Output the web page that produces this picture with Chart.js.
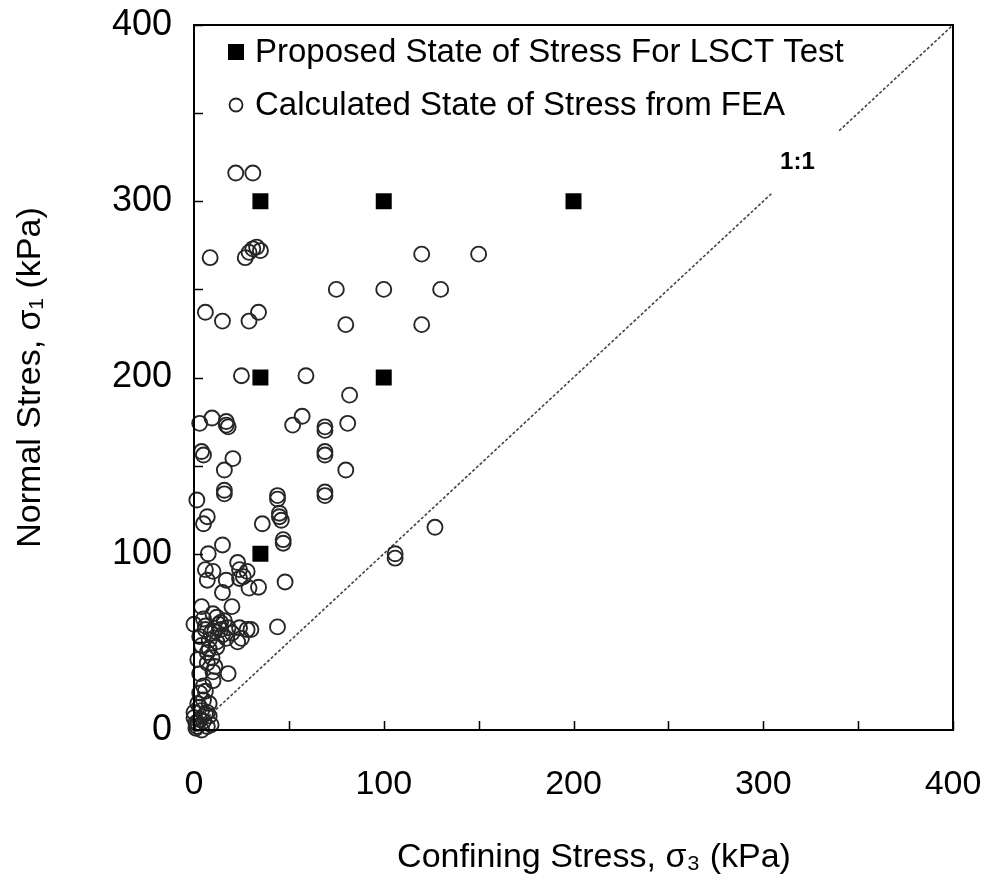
<!DOCTYPE html>
<html>
<head>
<meta charset="utf-8">
<script src="https://cdn.jsdelivr.net/npm/chart.js@4.4.1/dist/chart.umd.min.js"></script>
<style>
  html, body { margin: 0; padding: 0; background: #fff; }
  #wrap { width: 984px; height: 880px; }
</style>
</head>
<body>
<div id="wrap"><canvas id="stressChart" width="984" height="880"></canvas></div>
<script>
// proposed LSCT test states (sigma3, sigma1) in kPa
const proposedX = [35, 100, 200, 35, 100, 35];
const proposedY = [300, 300, 300, 200, 200, 100];

// FEA calculated states
const feaX = [22, 31, 8.5, 27, 29, 31, 33, 35, 6, 15, 29, 34, 25, 59, 75, 100, 130, 120, 150, 80, 120, 82,
  3, 9.5, 17, 17, 18, 52, 57, 69, 69, 81, 4, 5, 20.5, 16, 69, 69, 80, 16, 16, 69, 69,
  1.5, 44, 44, 45, 45, 46, 7, 5, 36, 127, 47, 47, 7.5, 15, 106, 106,
  48, 34, 29, 24, 23, 28, 6, 10, 7, 15, 17, 26, 24,
  4, 10, 12, 0, 6, 14, 24, 28, 30, 44, 3, 8, 15, 23, 7, 9.5, 7, 18, 3, 10, 12, 16, 20, 13, 18, 5, 9, 20, 25, 11,
  6, 11, 14, 17, 4, 8, 12, 2, 10,
  3, 5, 0, 3, 7, 1.5, 3, 7, 0, 2, 5, 8, 4, 1, 6, 8, 2, 9, 5, 4, 6, 1];
const feaY = [316, 316, 268, 268, 271, 273, 274, 272, 237, 232, 232, 237, 201, 201, 250, 250, 250, 270, 270, 230, 230, 190,
  174, 177, 175, 173, 172, 173, 178, 172, 170, 174, 158, 156, 154, 147.5, 158, 156, 147.5, 136, 134, 135, 133,
  130.5, 133, 131, 123, 121, 119, 121, 117, 117, 115, 108, 106, 100, 105, 100, 97.5,
  84, 81, 80.5, 91, 95, 90, 91, 90, 85, 78, 85, 87, 86,
  70, 66, 64, 60, 57, 57, 58, 57, 57, 58.5, 53, 51, 54, 50, 44, 41, 38, 32, 32, 28, 47, 62, 70, 60, 58, 63, 55, 55, 52, 36,
  59, 56, 61, 52, 48, 46, 50, 40, 33,
  21, 17, 10, 6, 2, 2, 13, 10, 7, 4, 5, 8, 0, 1, 22, 15, 15, 3, 25, 11, 9, 4];

// 1:1 reference line, broken where the label sits
const lineX = [0, 305, 322, 340, 400];
const lineY = [0, 305, null, 340, 400];

const axisTicks = [0, 100, 200, 300, 400];

const toPts = (xs, ys) => xs.map((x, i) => ({ x: x, y: ys[i] }));

// inward ticks, closed frame, "1:1" text, x title and in-plot legend
const framePlugin = {
  id: 'frame',
  afterDraw(chart) {
    const ctx = chart.ctx;
    const a = chart.chartArea;
    const xs = chart.scales.x, ys = chart.scales.y;
    ctx.save();
    ctx.strokeStyle = '#000';
    ctx.lineWidth = 2;
    ctx.strokeRect(a.left, a.top, a.right - a.left, a.bottom - a.top);
    ctx.lineWidth = 1.5;
    ctx.beginPath();
    xs.ticks.forEach(t => {
      const px = Math.round(xs.getPixelForValue(t.value)) + 0.5;
      ctx.moveTo(px, a.bottom);
      ctx.lineTo(px, a.bottom - 9);
    });
    ys.ticks.forEach(t => {
      const py = Math.round(ys.getPixelForValue(t.value)) + 0.5;
      ctx.moveTo(a.left, py);
      ctx.lineTo(a.left + 9, py);
    });
    ctx.stroke();

    // 1:1 label
    ctx.fillStyle = '#000';
    ctx.font = 'bold 24px "Liberation Sans", Arial, sans-serif';
    ctx.textAlign = 'center';
    ctx.textBaseline = 'middle';
    ctx.fillText('1:1', xs.getPixelForValue(318), ys.getPixelForValue(322));

    // x axis title, sitting a little right of centre like the original
    ctx.font = '34px "Liberation Sans", Arial, sans-serif';
    ctx.fillText('Confining Stress, σ₃ (kPa)', 594, 858);

    // legend
    const lx = a.left + 42, ly1 = a.top + 27, ly2 = a.top + 80;
    ctx.fillRect(lx - 8, ly1 - 8, 16, 16);
    ctx.beginPath();
    ctx.arc(lx, ly2, 6.5, 0, Math.PI * 2);
    ctx.lineWidth = 1.8;
    ctx.strokeStyle = '#222';
    ctx.stroke();
    ctx.font = '33px "Liberation Sans", Arial, sans-serif';
    ctx.textAlign = 'left';
    ctx.fillText('Proposed State of Stress For LSCT Test', lx + 19, ly1 + 1);
    ctx.fillText('Calculated State of Stress from FEA', lx + 19, ly2 + 1);
    ctx.restore();
  }
};

const ctx = document.getElementById('stressChart').getContext('2d');
const stressChart = new Chart(ctx, {
  type: 'scatter',
  data: {
    datasets: [
      {
        label: 'Proposed State of Stress For LSCT Test',
        data: toPts(proposedX, proposedY),
        pointStyle: 'rect',
        pointRadius: 11.3,
        backgroundColor: '#000',
        borderColor: '#000',
        borderWidth: 0,
        clip: false
      },
      {
        label: 'Calculated State of Stress from FEA',
        data: toPts(feaX, feaY),
        pointStyle: 'circle',
        pointRadius: 7.5,
        backgroundColor: 'rgba(0,0,0,0)',
        borderColor: '#262626',
        borderWidth: 1.9,
        clip: false
      },
      {
        label: '1:1',
        data: toPts(lineX, lineY),
        showLine: true,
        spanGaps: false,
        pointRadius: 0,
        borderColor: '#444',
        borderWidth: 1.6,
        borderDash: [3, 2]
      }
    ]
  },
  options: {
    responsive: false,
    animation: false,
    layout: { padding: { top: 25, right: 31, left: 0, bottom: 0 } },
    plugins: {
      legend: { display: false },
      tooltip: { enabled: false }
    },
    scales: {
      x: {
        type: 'linear',
        min: 0,
        max: 400,
        afterFit(scale) {
          scale.height = 150;
          scale.paddingLeft = 0;
          scale.paddingRight = 0;
        },
        afterBuildTicks(scale) {
          scale.ticks = [0, 50, 100, 150, 200, 250, 300, 350, 400].map(v => ({ value: v }));
        },
        ticks: {
          autoSkip: false,
          maxRotation: 0,
          padding: 34,
          color: '#000',
          font: { family: '"Liberation Sans", Arial, sans-serif', size: 34 },
          callback: v => axisTicks.includes(v) ? String(v) : ''
        },
        grid: { drawOnChartArea: false, drawTicks: false },
        border: { display: true, color: '#000', width: 2 },
        title: { display: false }
      },
      y: {
        type: 'linear',
        min: 0,
        max: 400,
        afterFit(scale) {
          scale.width = 194;
          scale.paddingTop = 0;
          scale.paddingBottom = 0;
        },
        afterBuildTicks(scale) {
          scale.ticks = [0, 50, 100, 150, 200, 250, 300, 350, 400].map(v => ({ value: v }));
        },
        ticks: {
          autoSkip: false,
          padding: 22,
          color: '#000',
          font: { family: '"Liberation Sans", Arial, sans-serif', size: 36 },
          callback: v => axisTicks.includes(v) ? String(v) : ''
        },
        grid: { drawOnChartArea: false, drawTicks: false },
        border: { display: true, color: '#000', width: 2 },
        title: {
          display: true,
          text: 'Normal Stres, σ₁ (kPa)',
          color: '#000',
          font: { family: '"Liberation Sans", Arial, sans-serif', size: 34 },
          padding: { top: 10, bottom: 0 }
        }
      }
    }
  },
  plugins: [framePlugin]
});
</script>
</body>
</html>
